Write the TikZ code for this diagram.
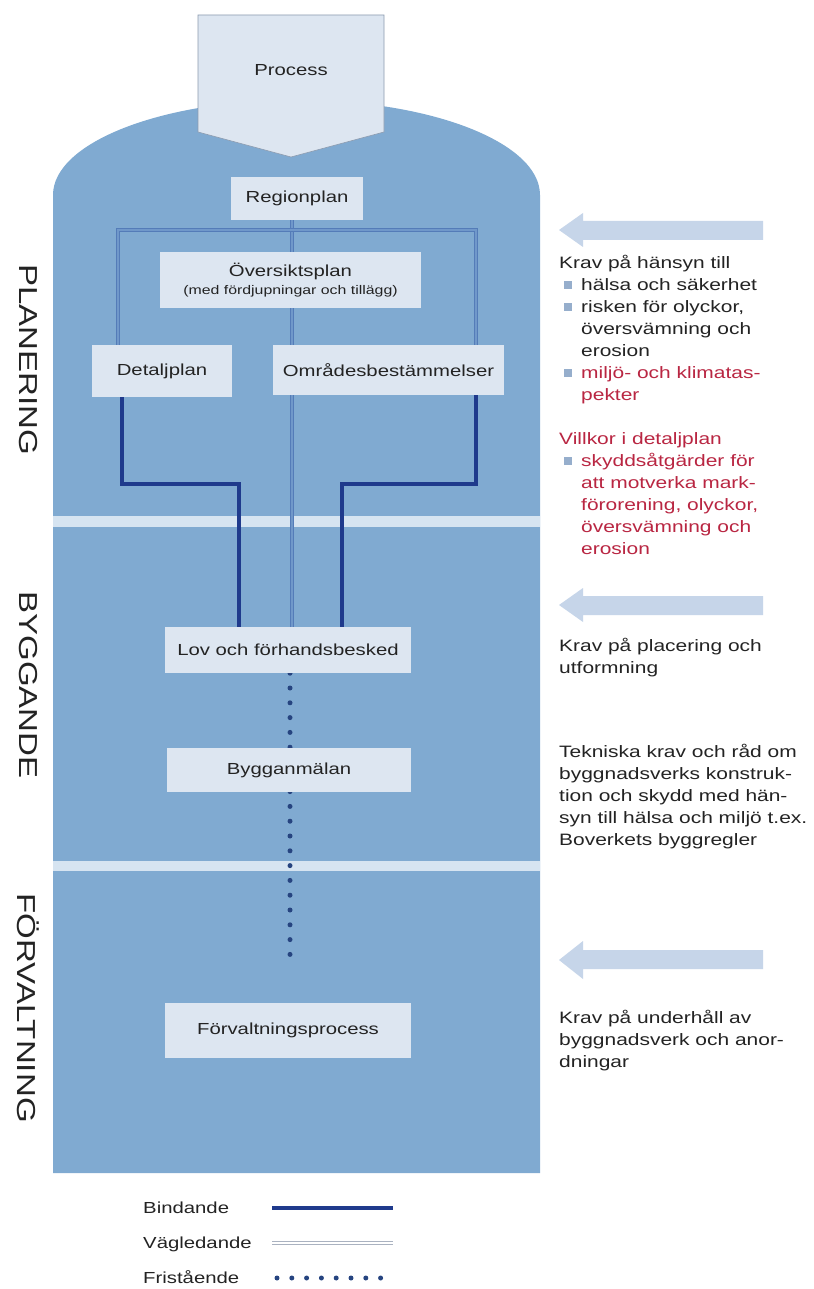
\documentclass[tikz,border=0pt]{standalone}
\usepackage{fontspec}
\setmainfont{Liberation Sans}[FakeStretch=1.27]
\pgfdeclarelayer{back}
\pgfdeclarelayer{lines}
\pgfsetlayers{back,lines,main}
\definecolor{mainc}{RGB}{128,170,209}
\definecolor{boxc}{RGB}{221,230,241}
\definecolor{stripec}{RGB}{214,228,241}
\definecolor{bindc}{RGB}{31,58,140}
\definecolor{vagc}{RGB}{84,124,184}
\definecolor{vagin}{RGB}{112,152,202}
\definecolor{dotc}{RGB}{38,68,128}
\definecolor{arrc}{RGB}{198,213,233}
\definecolor{bulc}{RGB}{150,174,204}
\definecolor{redc}{RGB}{185,38,66}
\definecolor{txt}{RGB}{35,35,35}
\definecolor{procline}{RGB}{140,155,175}
\definecolor{leggray}{RGB}{170,178,192}
\begin{document}
\begin{tikzpicture}[x=1pt,y=-1pt,
  box/.style={fill=boxc, inner sep=0pt, text=txt, font=\fontsize{16}{19}\selectfont},
  bind/.style={draw=bindc, line width=4pt, line join=miter},
  vag/.style={draw=vagc, line width=1.6pt, double=vagin, double distance=1.6pt, line join=miter},
  dotl/.style={draw=dotc, line width=5pt, line cap=round, dash pattern=on 0pt off 14.8pt},
  side/.style={rotate=-90, text=txt, font=\fontsize{26}{30}\selectfont},
  rt/.style={anchor=base west, inner sep=0pt, text=txt, font=\fontsize{16.5}{20}\selectfont},
  rr/.style={rt, text=redc},
  bul/.style={fill=bulc, minimum size=7.5pt, inner sep=0pt},
  arrowshape/.style={fill=arrc},
  lt/.style={anchor=base west, inner sep=0pt, text=txt, font=\fontsize{16}{19}\selectfont}
]
\useasboundingbox (0,0) rectangle (813,1289);

% background, main shape and stripes
\begin{pgfonlayer}{back}
\fill[white] (0,0) rectangle (813,1289);
\fill[mainc] (53,1173) -- (53,195) .. controls (53,142.5) and (162,100) .. (296.5,100)
  .. controls (431,100) and (540,142.5) .. (540,195) -- (540,1173) -- cycle;
\fill[stripec] (53,516) rectangle (540,527);
\fill[stripec] (53,861) rectangle (540,871);
\end{pgfonlayer}

% process
\fill[boxc, draw=procline, line width=0.6pt] (198,15) -- (384,15) -- (384,132) -- (291,157) -- (198,132) -- cycle;
\node[text=txt, font=\fontsize{16}{19}\selectfont] (proc) at (291,70) {Process};

% boxes
\node[box, minimum width=132pt, minimum height=43pt] (reg) at (297,198.5) {Regionplan};
\node[box, minimum width=261pt, minimum height=56pt, align=center] (ovs) at (290.5,280)
  {Översiktsplan\\[-1pt]{\fontsize{12.5}{14}\selectfont(med fördjupningar och tillägg)}};
\node[box, minimum width=140pt, minimum height=52pt] (det) at (162,371) {Detaljplan};
\node[box, minimum width=231pt, minimum height=50pt] (omr) at (388.5,370) {Områdesbestämmelser};
\node[box, minimum width=246pt, minimum height=46pt] (lov) at (288,650) {Lov och förhandsbesked};
\node[box, minimum width=244pt, minimum height=44pt] (bygg) at (289,770) {Bygganmälan};
\node[box, minimum width=246pt, minimum height=55pt] (forv) at (288,1030) {Förvaltningsprocess};

% connectors
\coordinate (vc) at (292,230);
\coordinate (vl) at (118,230);
\coordinate (vr) at (476,230);
\coordinate (b1) at (122,484);
\coordinate (b2) at (239,484);
\coordinate (b3) at (476,484);
\coordinate (b4) at (342,484);
\coordinate (dend) at (290,962);
\begin{pgfonlayer}{lines}
\draw[vag] (reg.south -| vc) -- (lov.north -| vc);
\draw[vag] (det.north -| vl) -- (vl) -- (vr) -- (omr.north -| vr);
\draw[bind] (det.south -| b1) -- (b1) -- (b2) -- (lov.north -| b2);
\draw[bind] (omr.south -| b3) -- (b3) -- (b4) -- (lov.north -| b4);
\draw[dotl] (lov.south -| dend) -- (dend);
\end{pgfonlayer}

% side labels
\node[side] (pl) at (28,360) {PLANERING};
\node[side] (by) at (28,685) {BYGGANDE};
\node[side] (fo) at (28,1008) {FÖRVALTNING};

% right arrows
\fill[arrowshape] (559,230) -- (583,213) -- (583,221) -- (763,221) -- (763,240) -- (583,240) -- (583,247) -- cycle;
\fill[arrowshape] (559,605) -- (583,588) -- (583,596) -- (763,596) -- (763,615) -- (583,615) -- (583,622) -- cycle;
\fill[arrowshape] (559,960) -- (583,941) -- (583,950) -- (763,950) -- (763,969) -- (583,969) -- (583,979) -- cycle;

% right text block 1
\node[rt] (t1) at (559,268) {Krav på hänsyn till};
\node[rt] (t2) at (581,290) {hälsa och säkerhet};
\node[rt] (t3) at (581,312) {risken för olyckor,};
\node[rt] (t4) at (581,334) {översvämning och};
\node[rt] (t5) at (581,356) {erosion};
\node[rr] (t6) at (581,378) {miljö- och klimatas-};
\node[rr] (t7) at (581,400) {pekter};
\node[rr] (t8) at (559,444) {Villkor i detaljplan};
\node[rr] (t9) at (581,466) {skyddsåtgärder för};
\node[rr] (t10) at (581,488) {att motverka mark-};
\node[rr] (t11) at (581,510) {förorening, olyckor,};
\node[rr] (t12) at (581,532) {översvämning och};
\node[rr] (t13) at (581,554) {erosion};
\node[bul] (q1) at (568,285) {};
\node[bul] (q2) at (568,307) {};
\node[bul] (q3) at (568,373) {};
\node[bul] (q4) at (568,461) {};

% right text block 2
\node[rt] (u1) at (559,651) {Krav på placering och};
\node[rt] (u2) at (559,673) {utformning};
% block 3
\node[rt] (v1) at (559,757) {Tekniska krav och råd om};
\node[rt] (v2) at (559,779) {byggnadsverks konstruk-};
\node[rt] (v3) at (559,801) {tion och skydd med hän-};
\node[rt] (v4) at (559,823) {syn till hälsa och miljö t.ex.};
\node[rt] (v5) at (559,845) {Boverkets byggregler};
% block 4
\node[rt] (w1) at (559,1023) {Krav på underhåll av};
\node[rt] (w2) at (559,1045) {byggnadsverk och anor-};
\node[rt] (w3) at (559,1067) {dningar};

% legend
\node[lt] (l1) at (143,1213) {Bindande};
\node[lt] (l2) at (143,1248) {Vägledande};
\node[lt] (l3) at (143,1283) {Fristående};
\coordinate (la1) at (272,1208);
\coordinate (la2) at (393,1208);
\coordinate (lb1) at (272,1243);
\coordinate (lb2) at (393,1243);
\coordinate (lc1) at (277,1278);
\coordinate (lc2) at (395,1278);
\draw[draw=bindc, line width=3.5pt] (la1) -- (la2);
\draw[draw=leggray, line width=1.2pt, double=white, double distance=1.6pt] (lb1) -- (lb2);
\draw[dotl] (lc1) -- (lc2);
\end{tikzpicture}
\end{document}
